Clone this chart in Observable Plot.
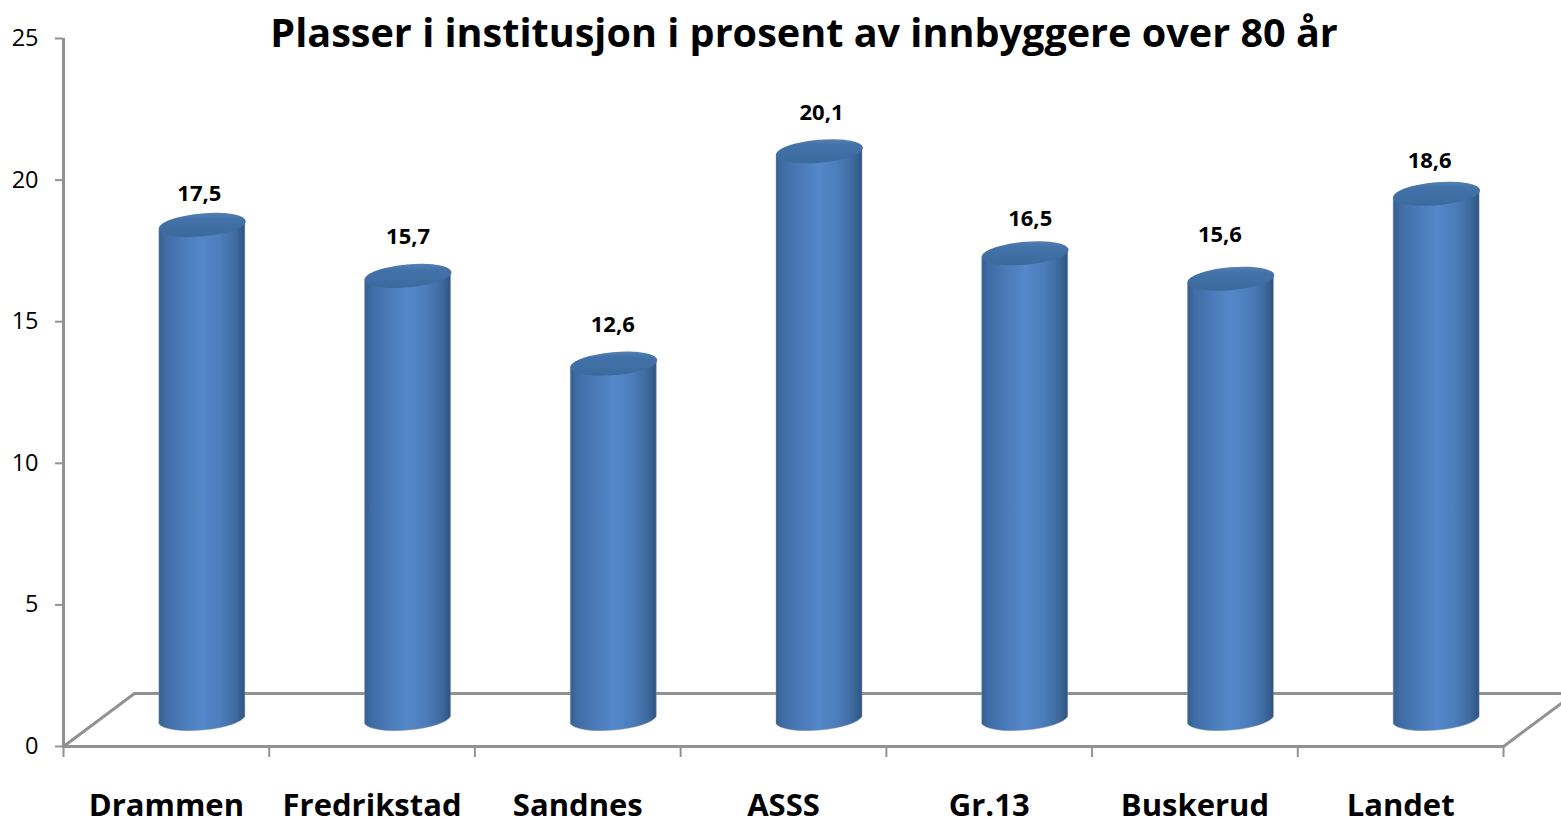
<!DOCTYPE html>
<html lang="no">
<head>
<meta charset="utf-8">
<script src="https://cdn.jsdelivr.net/npm/d3@7"></script>
<script src="https://cdn.jsdelivr.net/npm/@observablehq/plot@0.6"></script>
<style>
html,body{margin:0;padding:0;background:#fff;overflow:hidden}
svg{display:block}
</style>
</head>
<body>
<div id="chart"></div>
<script>
const categories = ["Drammen","Fredrikstad","Sandnes","ASSS","Gr.13","Buskerud","Landet"];
const values = [17.5,15.7,12.6,20.1,16.5,15.6,18.6];
const valueLabels = ["17,5","15,7","12,6","20,1","16,5","15,6","18,6"];
const yTicks = [0,5,10,15,20,25];
const xTicks = [0,1,2,3,4,5,6,7];
const titleText = "Plasser i institusjon i prosent av innbyggere over 80 år";

// layout constants, not data
const depthX = 36, depthY = -26;
const labelNudgeX = [-3,0,-1,2,5,-11,-7];
const labelNudgeY = [-31,-39,-39,-38,-34,-44,-33];
const halfBar = 0.209;
const floorDY = 1.87, floorDX = 0.345;
const axisGrey = "#929292";
const font = "'Open Sans', sans-serif";
const capA = 43.5, capB = 11.5, capTilt = -5;

const rows = categories.map((c,i)=>({c,i,v:values[i],l:valueLabels[i],mid:i+0.5}));

function ellipseSymbol(a,b,deg){
  const t=deg*Math.PI/180, ct=Math.cos(t), st=Math.sin(t), k=0.5523;
  const P=(x,y)=>[x*ct-y*st, x*st+y*ct];
  return {draw(ctx){
    const seg=[[[a,k*b],[k*a,b],[0,b]],[[-k*a,b],[-a,k*b],[-a,0]],[[-a,-k*b],[-k*a,-b],[0,-b]],[[k*a,-b],[a,-k*b],[a,0]]];
    ctx.moveTo(...P(a,0));
    for(const s of seg) ctx.bezierCurveTo(...P(...s[0]),...P(...s[1]),...P(...s[2]));
    ctx.closePath();
  }};
}
const topCap = ellipseSymbol(capA,capB,capTilt);

function defs(){
  const d=d3.create("svg:defs");
  const mk=(id,stops,x2=1,y2=0)=>{
    const g=d.append("linearGradient").attr("id",id).attr("x1",0).attr("x2",x2).attr("y1",0).attr("y2",y2);
    stops.forEach(([o,c])=>g.append("stop").attr("offset",o).attr("stop-color",c));
  };
  mk("cyl",[[0,"#35608f"],[0.08,"#3f6ca4"],[0.3,"#4b7bb9"],[0.5,"#5488cb"],[0.72,"#4c7dbb"],[0.9,"#3e699d"],[1,"#2e5480"]]);
  mk("cap",[[0,"#5580b2"],[0.25,"#4272a9"],[1,"#3b6a9d"]],0,1);
  return d.node();
}

// rounded-bottom cylinder body, sized by the rect's own scaled box
function cylinderBody(index,scales,channels,dims,ctx,next){
  const g=next(index,scales,channels,dims,ctx);
  const drop=Math.sin(-capTilt*Math.PI/180)*capA;
  d3.select(g).selectAll("rect").each(function(){
    const r=d3.select(this);
    const x=+r.attr("x"),y=+r.attr("y"),w=+r.attr("width"),h=+r.attr("height");
    const p=document.createElementNS("http://www.w3.org/2000/svg","path");
    p.setAttribute("d",`M${x},${y+drop}L${x},${y+h+drop}A${capA} ${capB} ${capTilt} 0 0 ${x+w},${y+h-drop}L${x+w},${y-drop}Z`);
    p.setAttribute("fill",r.attr("fill")||"url(#cyl)");
    p.setAttribute("stroke","#8c98a6");
    p.setAttribute("stroke-opacity","0.45");
    p.setAttribute("stroke-width","1");
    this.replaceWith(p);
  });
  return g;
}

function nudgeLabels(index,scales,channels,dims,ctx,next){
  const g=next(index,scales,channels,dims,ctx);
  d3.select(g).selectAll("text").each(function(_,n){
    const i=index[n];
    const cur=d3.select(this);
    const m=/translate\(([-\d.]+),([-\d.]+)\)/.exec(cur.attr("transform")||"");
    if(m) cur.attr("transform",`translate(${+m[1]+depthX+labelNudgeX[i]},${+m[2]+depthY+labelNudgeY[i]})`);
  });
  return g;
}

const chart = Plot.plot({
  width:1561, height:819,
  marginLeft:63, marginRight:58, marginTop:38, marginBottom:73,
  style:{background:"#fff",fontFamily:font,overflow:"hidden"},
  x:{domain:[0,7],axis:null},
  y:{domain:[0,25],axis:null},
  marks:[
    defs,
    Plot.line([[0,0],[floorDX,floorDY],[7+floorDX,floorDY],[7,0]],{x:d=>d[0],y:d=>d[1],stroke:axisGrey,strokeWidth:3,curve:"linear"}),
    Plot.ruleY([0],{x1:0,x2:7,stroke:axisGrey,strokeWidth:3}),
    Plot.axisY({ticks:yTicks,anchor:"left",tickSize:8,stroke:axisGrey,strokeWidth:2,fill:"#000",fontSize:23.5,fontFamily:font,tickPadding:17,label:null}),
    Plot.ruleX([0],{y1:0,y2:25,stroke:axisGrey,strokeWidth:3}),
    Plot.axisX({ticks:xTicks,anchor:"bottom",tickSize:11,stroke:axisGrey,strokeWidth:2,tickFormat:()=>"",label:null}),
    Plot.rect(rows,{x1:d=>d.mid-halfBar,x2:d=>d.mid+halfBar,y1:0,y2:"v",dx:depthX,dy:depthY,fill:"url(#cyl)",render:cylinderBody}),
    Plot.dot(rows,{x:"mid",y:"v",dx:depthX,dy:depthY,symbol:topCap,r:10,fill:"url(#cap)",stroke:"none"}),
    Plot.text(rows,{x:"mid",y:"v",text:"l",fontWeight:700,fontSize:22,fill:"#000",render:nudgeLabels}),
    Plot.text(rows,{x:"mid",y:0,dy:60,text:"c",fontWeight:700,fontSize:31,fill:"#000"}),
    Plot.text([titleText],{x:3.6,y:25,dy:-4,fontWeight:700,fontSize:39.6,fill:"#000"})
  ]
});
document.getElementById("chart").append(chart);
</script>
</body>
</html>
